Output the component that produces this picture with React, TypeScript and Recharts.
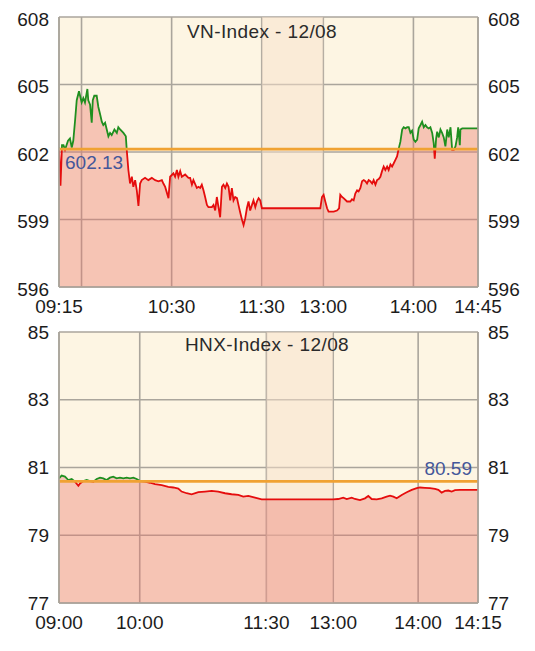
"use client"

import { AreaChart, Area, XAxis, YAxis, CartesianGrid, ReferenceLine } from "recharts"

// x values are trading-clock positions (lunch break squeezed), y values are index points
const vnSeries: [number, number][] = [
  [0, 602.2], [1, 600.5], [2, 602.3], [3, 602.3], [4, 602.1], [6, 602.5], [7.3, 602.6], [8.5, 602.2],
  [9.5, 602.5], [10.7, 603.4], [11.8, 604.3], [13.3, 604.7], [15.1, 604.2], [16.2, 604.4], [17.3, 604.2],
  [18.9, 604.8], [19.5, 604.3], [20.7, 604.1], [21.8, 603.3], [22.5, 604.3], [23.5, 604.5], [25.1, 604.5],
  [26.2, 604.0], [27.3, 603.7], [28.5, 603.35], [29.5, 603.2], [30.7, 603.3], [31.8, 603.0], [32.9, 602.7],
  [34, 602.85], [35.1, 602.75], [36.9, 603.0], [38.5, 602.85], [39.5, 603.1], [40.7, 603.0], [42.9, 602.85],
  [44.5, 602.7], [45.1, 602.1], [46.2, 601.2], [47.3, 600.6], [48.5, 600.9], [49.5, 600.45], [50.7, 600.75],
  [51.8, 600.3], [52.9, 599.6], [54, 600.6], [55.1, 600.75], [57.3, 600.85], [59.5, 600.75], [61.8, 600.85],
  [64, 600.75], [66.2, 600.7], [68.5, 600.75], [69.5, 600.6], [70.7, 600.45], [72.9, 599.95], [74, 600.9],
  [76.2, 601.05], [77.3, 600.9], [78.5, 601.2], [79.5, 600.9], [80.7, 601.15], [81.8, 600.9], [84, 601.0],
  [86.2, 600.85], [87.3, 600.85], [88.5, 600.55], [89.5, 600.75], [91.8, 600.4], [92.9, 600.45], [94, 600.4],
  [95.1, 600.55], [96.2, 600.3], [97.3, 600.0], [98.5, 599.65], [99.5, 599.55], [101.8, 599.55], [102.9, 599.65],
  [104, 599.4], [105.1, 600.0], [106.2, 599.55], [107.3, 599.1], [108.5, 600.45], [109.5, 600.55], [110.7, 600.4],
  [111.8, 600.6], [112.9, 600.45], [114, 599.85], [115.1, 600.4], [116.2, 599.85], [117.3, 600.0], [118.5, 599.95],
  [119.5, 599.65], [120.7, 599.3], [121.8, 599.0], [122.9, 598.75], [124, 599.05], [125.1, 599.5], [126.2, 599.8],
  [127.3, 599.4], [128.5, 599.65], [129.5, 599.85], [130.7, 599.55], [131.8, 599.8], [132.9, 599.95], [134, 599.85],
  [135.1, 599.5], [174, 599.5], [175.1, 600.0], [176.2, 600.1], [177.3, 599.8], [178.5, 599.5], [179.5, 599.35],
  [182.9, 599.35], [185.1, 599.4], [186.5, 599.5], [187.3, 600.1], [188.5, 600.0], [189.5, 599.95], [191.8, 599.8],
  [194, 599.8], [195.1, 599.9], [196.2, 599.85], [197.3, 600.15], [198.5, 600.3], [199.5, 600.25], [200.7, 600.4],
  [201.8, 600.7], [202.9, 600.75], [204, 600.7], [205.1, 600.6], [206.2, 600.75], [207.3, 600.7], [208.5, 600.6],
  [209.5, 600.75], [210.7, 600.55], [211.8, 600.75], [212.9, 600.8], [214, 600.9], [215.1, 601.15], [216.2, 601.35],
  [217.3, 601.2], [218.5, 601.35], [219.5, 601.2], [220.7, 601.45], [221.8, 601.35], [222.9, 601.5], [224, 601.65],
  [225.1, 601.8], [226.2, 602.15], [227.3, 602.45], [228.5, 603.0], [229.5, 603.1], [230.7, 603.05], [231.8, 603.1],
  [232.9, 603.1], [234, 602.85], [235.1, 602.95], [236.2, 602.55], [237.3, 602.45], [238.5, 602.55], [239.5, 603.05],
  [240.7, 603.2], [241.8, 603.35], [242.9, 603.1], [244, 603.2], [245.1, 603.1], [246.2, 603.05], [247.3, 603.1],
  [248.5, 602.85], [249.5, 602.4], [250.2, 601.7], [251.1, 602.6], [251.8, 602.9], [252.9, 602.65], [254, 603.0],
  [255.1, 602.85], [256.2, 602.65], [257.3, 602.25], [258.5, 603.0], [259.5, 602.65], [260.7, 603.1], [261.8, 602.1],
  [262.9, 602.1], [264, 602.25], [265.1, 602.65], [265.8, 603.1], [266.9, 602.3], [267.3, 603.0], [268.5, 603.05],
  [279, 603.05],
]
const vnRef = 602.13
const vnYTicks = [596, 599, 602, 605, 608]
const vnXTicks = [0, 15, 75, 135, 176, 236, 279]
const vnXLabels = ["09:15", "", "10:30", "11:30", "13:00", "14:00", "14:45"]
const vnLunch = [135, 176]

const hnxSeries: [number, number][] = [
  [0, 80.68], [1.9, 80.76], [4.3, 80.73], [6.7, 80.63], [9.1, 80.66], [11.5, 80.58], [13.9, 80.46], [15.1, 80.53],
  [17.5, 80.6], [19.9, 80.63], [22.3, 80.6], [24.7, 80.58], [27.1, 80.66], [29.5, 80.7], [31.8, 80.68], [34.2, 80.63],
  [36.6, 80.7], [39, 80.73], [41.4, 80.68], [43.8, 80.7], [46.2, 80.68], [48.6, 80.7], [51, 80.68], [53.4, 80.7],
  [55.8, 80.66], [58.2, 80.6], [61.8, 80.58], [65.4, 80.55], [69, 80.51], [73.8, 80.48], [78.5, 80.43], [82.1, 80.41],
  [85.7, 80.38], [88.1, 80.29], [91.7, 80.24], [95.3, 80.21], [100.1, 80.27], [104.9, 80.29], [109.7, 80.31],
  [114.4, 80.29], [119.3, 80.24], [124, 80.21], [128.8, 80.19], [132.4, 80.14], [136, 80.16], [140.8, 80.11],
  [145.6, 80.06], [149.2, 80.06], [197, 80.06], [200.6, 80.07], [204.2, 80.11], [206.7, 80.07], [210.3, 80.11],
  [212.6, 80.07], [216.2, 80.04], [219.8, 80.09], [222.2, 80.16], [224.6, 80.07], [228.2, 80.06], [231.8, 80.09],
  [235.4, 80.14], [237.8, 80.17], [240.2, 80.14], [242.6, 80.09], [246.2, 80.19], [249.8, 80.27], [253.4, 80.34],
  [257, 80.39], [259.3, 80.41], [262.9, 80.4], [266.5, 80.39], [270.1, 80.37], [272.5, 80.34], [274.9, 80.26],
  [277.3, 80.31], [279.7, 80.32], [282.1, 80.29], [284.5, 80.33], [288.1, 80.34], [301, 80.34],
]
const hnxRef = 80.59
const hnxYTicks = [77, 79, 81, 83, 85]
const hnxXTicks = [0, 58, 149, 197, 258, 301]
const hnxXLabels = ["09:00", "10:00", "11:30", "13:00", "14:00", "14:15"]
const hnxLunch = [149, 197]

const FONT = "'Liberation Sans', Arial, Helvetica, sans-serif"
const GRID = "#aaa59c"

type PanelProps = {
  id: string
  title: string
  titleX: number
  titleTop: number
  series: [number, number][]
  refValue: number
  refLabelPos: "insideTopLeft" | "insideBottomRight"
  yTicks: number[]
  xTicks: number[]
  xLabels: string[]
  lunch: number[]
  top: number
  height: number
  xAxisHeight: number
  xTickMargin: number
  yDy: number
}

const IndexPanel = ({
  id, title, titleX, titleTop, series, refValue, refLabelPos, yTicks, xTicks, xLabels, lunch,
  top, height, xAxisHeight, xTickMargin, yDy,
}: PanelProps) => {
  const yMax = yTicks[yTicks.length - 1]
  // lunch break band rows go in with the price rows, band area sits under the price area
  const data: { t: number; v?: number; band?: number }[] = [
    ...series.map(([t, v]) => ({ t, v })),
    { t: lunch[0], band: yMax },
    { t: lunch[1], band: yMax },
  ].sort((a, b) => a.t - b.t)
  const vals = series.map(([, v]) => v)
  const max = Math.max(...vals)
  const min = Math.min(...vals)
  // green above the reference, red below
  const split = (max - refValue) / (max - min)
  const tick = { fill: "#1c1c1c", fontSize: 19, fontFamily: FONT }

  return (
    <>
      <div style={{ position: "absolute", left: 0, top, width: 535, height }}>
        <AreaChart width={535} height={height} data={data} margin={{ top: 17, right: 0, bottom: 0, left: 0 }}>
          <defs>
            <linearGradient id={`${id}-stroke`} x1="0" y1="0" x2="0" y2="1">
              <stop offset={split} stopColor="#1f8f1f" />
              <stop offset={split} stopColor="#e50d0d" />
            </linearGradient>
          </defs>
          <CartesianGrid fill="#fdf5e3" stroke={GRID} strokeWidth={1.6} />
          <XAxis
            dataKey="t"
            type="number"
            domain={[xTicks[0], xTicks[xTicks.length - 1]]}
            ticks={xTicks}
            interval={0}
            tickFormatter={(v) => xLabels[xTicks.indexOf(v)] ?? ""}
            tickLine={false}
            tickSize={0}
            tickMargin={xTickMargin}
            axisLine={{ stroke: GRID, strokeWidth: 1.6 }}
            height={xAxisHeight}
            tick={tick}
            allowDataOverflow
          />
          <YAxis
            domain={[yTicks[0], yMax]}
            ticks={yTicks}
            interval={0}
            width={59}
            tickLine={false}
            tickSize={0}
            tickMargin={10}
            axisLine={{ stroke: GRID, strokeWidth: 1.6 }}
            tick={{ ...tick, dy: yDy }}
            allowDataOverflow
          />
          <YAxis
            yAxisId="r"
            orientation="right"
            domain={[yTicks[0], yMax]}
            ticks={yTicks}
            interval={0}
            width={57}
            tickLine={false}
            tickSize={0}
            tickMargin={10}
            axisLine={{ stroke: GRID, strokeWidth: 1.6 }}
            tick={{ ...tick, dy: yDy }}
            allowDataOverflow
          />
          <Area
            type="linear"
            dataKey="band"
            stroke="none"
            fill="#f7e1cb"
            fillOpacity={0.5}
            connectNulls
            isAnimationActive={false}
            dot={false}
            activeDot={false}
          />
          <Area
            type="linear"
            dataKey="v"
            stroke={`url(#${id}-stroke)`}
            strokeWidth={1.8}
            fill="#ea7468"
            fillOpacity={0.38}
            connectNulls
            isAnimationActive={false}
            dot={false}
            activeDot={false}
          />
          <ReferenceLine
            y={refValue}
            stroke="#f0a232"
            strokeWidth={2.6}
            label={{
              value: refValue.toFixed(2),
              position: refLabelPos,
              offset: 6,
              fill: "#44579a",
              fontSize: 19,
              fontFamily: FONT,
            }}
          />
        </AreaChart>
      </div>
      <div
        style={{
          position: "absolute",
          left: titleX - 150,
          top: titleTop,
          width: 300,
          textAlign: "center",
          fontFamily: FONT,
          fontSize: 19,
          lineHeight: "19px",
          letterSpacing: 0.4,
          color: "#2a2a2a",
        }}
      >
        {title}
      </div>
    </>
  )
}

const App = () => {
  return (
    <div style={{ position: "absolute", left: 0, top: 0, width: 535, height: 651, background: "#fff" }}>
      <IndexPanel
        id="vn"
        title="VN-Index - 12/08"
        titleX={262}
        titleTop={22}
        series={vnSeries}
        refValue={vnRef}
        refLabelPos="insideTopLeft"
        yTicks={vnYTicks}
        xTicks={vnXTicks}
        xLabels={vnXLabels}
        lunch={vnLunch}
        top={0}
        height={320}
        xAxisHeight={33}
        xTickMargin={13}
        yDy={2}
      />
      <IndexPanel
        id="hnx"
        title="HNX-Index - 12/08"
        titleX={267}
        titleTop={335}
        series={hnxSeries}
        refValue={hnxRef}
        refLabelPos="insideBottomRight"
        yTicks={hnxYTicks}
        xTicks={hnxXTicks}
        xLabels={hnxXLabels}
        lunch={hnxLunch}
        top={315}
        height={336}
        xAxisHeight={48}
        xTickMargin={13}
        yDy={0}
      />
    </div>
  )
}

export default App
